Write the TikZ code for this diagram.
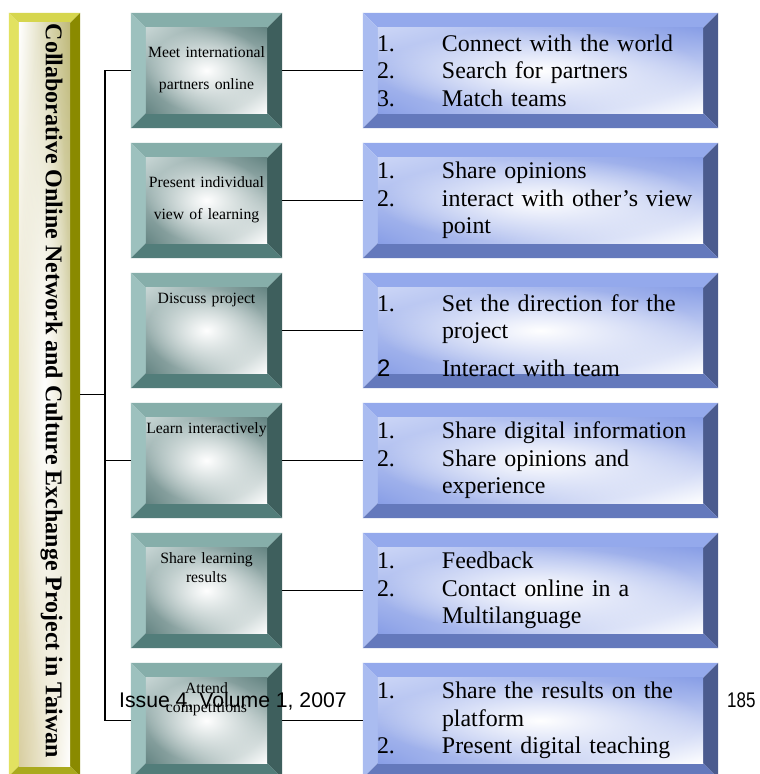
\documentclass[tikz,border=0pt]{standalone}
\usepackage{fontspec}
\setmainfont{Liberation Serif}
\newfontfamily\arialfont{Liberation Sans}
\usetikzlibrary{backgrounds,fadings,shadings}

% bevel colours
\definecolor{ytop}{RGB}{214,214,78}
\definecolor{yleft}{RGB}{226,226,96}
\definecolor{yright}{RGB}{138,138,0}
\definecolor{ybot}{RGB}{170,170,30}
\definecolor{ytan}{RGB}{216,206,160}
\definecolor{ykhaki}{RGB}{190,184,120}
\definecolor{gtop}{RGB}{134,174,170}
\definecolor{gleft}{RGB}{157,193,190}
\definecolor{gright}{RGB}{62,95,93}
\definecolor{gbot}{RGB}{82,125,122}
\definecolor{gdeep}{RGB}{100,132,130}
\definecolor{gpale}{RGB}{200,214,213}
\definecolor{btop}{RGB}{148,169,236}
\definecolor{bleft}{RGB}{170,188,240}
\definecolor{bright}{RGB}{75,91,142}
\definecolor{bbot}{RGB}{100,121,188}
\definecolor{bdeep}{RGB}{136,158,230}
\definecolor{bpale}{RGB}{204,214,246}

\tikzfading[name=whitecore, inner color=transparent!0, outer color=transparent!100]

\newcommand{\bnum}[1]{\makebox[65pt][l]{#1}}

% node, depth, top, left, right, bottom, face
\newcommand{\boxbevel}[7]{%
  \fill[#3] (#1.north west) -- (#1.north east) -- ([shift={(-#2,#2)}]#1.north east) -- ([shift={(#2,#2)}]#1.north west) -- cycle;
  \fill[#4] (#1.north west) -- ([shift={(#2,#2)}]#1.north west) -- ([shift={(#2,-#2)}]#1.south west) -- (#1.south west) -- cycle;
  \fill[#5] (#1.north east) -- ([shift={(-#2,#2)}]#1.north east) -- ([shift={(-#2,-#2)}]#1.south east) -- (#1.south east) -- cycle;
  \fill[#6] (#1.south west) -- ([shift={(#2,-#2)}]#1.south west) -- ([shift={(-#2,-#2)}]#1.south east) -- (#1.south east) -- cycle;
  \shade[#7] ([shift={(#2,#2)}]#1.north west) rectangle ([shift={(-#2,-#2)}]#1.south east);
  \fill[white, path fading=whitecore] ([shift={(#2,#2)}]#1.north west) rectangle ([shift={(-#2,-#2)}]#1.south east);
}

\tikzset{
  gbox/.style={minimum width=151pt, minimum height=115pt, inner sep=0pt, text width=122pt, align=center, font=\fontsize{15.7}{32}\selectfont},
  gtext/.style={inner sep=0pt, text width=122pt, align=center, font=\fontsize{15.7}{19}\selectfont},
  bbox/.style={minimum width=355pt, minimum height=115pt, inner xsep=14pt, inner ysep=0pt, text width=327pt, align=left, font=\fontsize{23.9}{27.5}\selectfont},
  ybox/.style={minimum width=71pt, minimum height=763pt, inner sep=0pt, font=\fontsize{24}{28}\selectfont\bfseries},
  gface/.style={upper left=gpale, upper right=gdeep, lower left=gdeep, lower right=white},
  bface/.style={upper left=bpale, upper right=bdeep, lower left=bdeep, lower right=white},
  yface/.style={upper left=white, upper right=ykhaki, lower left=ytan, lower right=white},
  link/.style={line width=1.5pt},
  folio/.style={anchor=base west, inner sep=0pt, font=\arialfont\fontsize{21.2}{24}\selectfont}
}

\begin{document}
\begin{tikzpicture}[x=1pt,y=-1pt]
    \newcommand{\greenx}{206.5}
    \newcommand{\bluex}{540.5}
    \newcommand{\firsty}{70.5}
    \newcommand{\rowgap}{130}

    \useasboundingbox (0,0) rectangle (760,774);

    % title bar
    \node[ybox] (title) at (44.5,394.5) {\rotatebox{-90}{\raisebox{1.5pt}[0pt][0pt]{Collaborative Online Network and Culture Exchange Project in Taiwan}\hspace{7pt}}};

    % activities
    \node[gbox] (g1) at (\greenx,\firsty) {Meet international\\partners online\rule[-4pt]{0pt}{4pt}};
    \node[gbox] (g2) at (\greenx,\firsty+\rowgap) {Present individual\\view of learning\rule[-4pt]{0pt}{4pt}};
    \node[gbox] (g3) at (\greenx,\firsty+2*\rowgap) {};
    \node[gbox] (g4) at (\greenx,\firsty+3*\rowgap) {};
    \node[gbox] (g5) at (\greenx,\firsty+4*\rowgap) {};
    \node[gbox] (g6) at (\greenx,\firsty+5*\rowgap) {};

    \node[gtext, anchor=north] (t3) at ([yshift=-20pt]g3.north) {Discuss project};
    \node[gtext, anchor=north] (t4) at ([yshift=-20pt]g4.north) {Learn interactively};
    \node[gtext, anchor=north] (t5) at ([yshift=-20pt]g5.north) {Share learning\\results};
    \node[gtext, anchor=north] (t6) at ([yshift=-20pt]g6.north) {Attend\\competitions};

    % details
    \node[bbox] (b1) at (\bluex,\firsty) {\bnum{1.}Connect with the world\\\bnum{2.}Search for partners\\\bnum{3.}Match teams};
    \node[bbox] (b2) at (\bluex,\firsty+\rowgap) {\bnum{1.}Share opinions\\\bnum{2.}interact with other's view\\\bnum{}point};
    \node[bbox] (b3) at (\bluex,\firsty+2*\rowgap) {\rule{0pt}{27pt}\bnum{1.}Set the direction for the\\\bnum{}project\\[10pt]\bnum{\arialfont 2}Interact with team};
    \node[bbox] (b4) at (\bluex,\firsty+3*\rowgap) {\bnum{1.}Share digital information\\\bnum{2.}Share opinions and\\\bnum{}experience};
    \node[bbox] (b5) at (\bluex,\firsty+4*\rowgap) {\bnum{1.}Feedback\\\bnum{2.}Contact online in a\\\bnum{}Multilanguage};
    \node[bbox] (b6) at (\bluex,\firsty+5*\rowgap) {\bnum{1.}Share the results on the\\\bnum{}platform\\\bnum{2.}Present digital teaching};

    % bevels behind the text
    \begin{scope}[on background layer]
      \clip (0,0) rectangle (760,774);
      \fill[white] (0,0) rectangle (760,774);
      \boxbevel{title}{10}{ytop}{yleft}{yright}{ybot}{yface}
      \foreach \i in {1,...,6} {
        \boxbevel{g\i}{15}{gtop}{gleft}{gright}{gbot}{gface}
        \boxbevel{b\i}{15}{btop}{bleft}{bright}{bbot}{bface}
      }
    \end{scope}

    % connectors
    \draw[link] (g1.west) -- ++(-26,0) coordinate (trunk) |- (g6.west);
    \draw[link] (title.east) -- (title.east -| trunk);
    \draw[link] (g4.west) -- (g4.west -| trunk);
    \foreach \i in {1,...,6}
      \draw[link] (g\i.east) -- (b\i.west);

    % page header and number
    \node[folio] (issue) at (119,707.5) {Issue 4, Volume 1, 2007};
    \node[folio] (pagenum) at (727,707.5) {\scalebox{0.8}[1]{185}};
\end{tikzpicture}
\end{document}
